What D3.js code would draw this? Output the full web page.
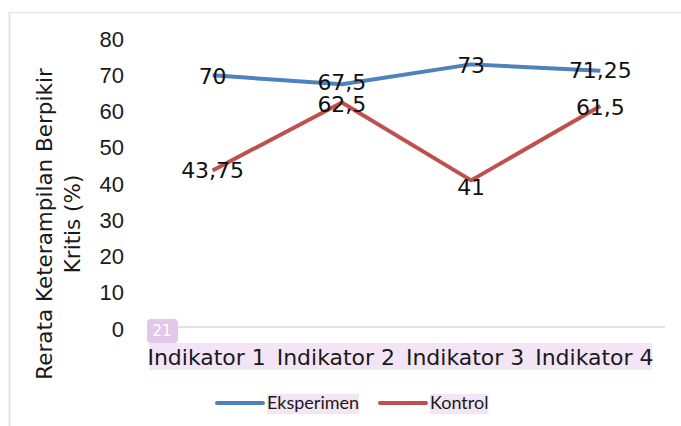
<!DOCTYPE html>
<html>
<head>
<meta charset="utf-8">
<script src="https://cdn.jsdelivr.net/npm/d3@7"></script>
<style>
  body { margin: 0; background: #fff; }
  svg { display: block; }
</style>
</head>
<body>
<div id="chart"></div>
<script>
// Data
const categories = ["Indikator 1", "Indikator 2", "Indikator 3", "Indikator 4"];
const eksperimen = [70, 67.5, 73, 71.25];
const kontrol = [43.75, 62.5, 41, 61.5];
const seriesNames = ["Eksperimen", "Kontrol"];
const yTicks = [0, 10, 20, 30, 40, 50, 60, 70, 80];

const width = 681, height = 426;
const margin = { top: 39, right: 16, bottom: 97, left: 148 };

const svg = d3.select("#chart").append("svg")
  .attr("width", width)
  .attr("height", height);

// Frame
svg.append("line").attr("x1", 9.5).attr("x2", 9.5).attr("y1", 12).attr("y2", height)
  .attr("stroke", "#e3e3e3").attr("stroke-width", 2);
svg.append("line").attr("x1", 9).attr("x2", width).attr("y1", 12.5).attr("y2", 12.5)
  .attr("stroke", "#e6e6e6").attr("stroke-width", 1.5);

const x = d3.scaleBand()
  .domain(categories)
  .range([margin.left, width - margin.right]);

const y = d3.scaleLinear()
  .domain([0, 80])
  .range([height - margin.bottom, margin.top]);

const fontMain = "'DejaVu Sans', Verdana, sans-serif";

// Y ticks
svg.append("g")
  .selectAll("text")
  .data(yTicks)
  .join("text")
  .attr("x", 124)
  .attr("y", d => y(d))
  .attr("dy", "0.35em")
  .attr("text-anchor", "end")
  .attr("font-family", "'Liberation Sans', Arial, sans-serif")
  .attr("font-size", 22)
  .attr("fill", "#1a1a1a")
  .text(d => d);

// Baseline
svg.append("line")
  .attr("x1", margin.left).attr("x2", width - margin.right)
  .attr("y1", y(0) - 2).attr("y2", y(0) - 2)
  .attr("stroke", "#d9d9d9").attr("stroke-width", 1.5);

// Y title
const yTitle = svg.append("text")
  .attr("transform", `translate(52,224) rotate(-90)`)
  .attr("text-anchor", "middle")
  .attr("font-family", fontMain)
  .attr("font-size", 21.5)
  .attr("fill", "#1a1a1a");
yTitle.append("tspan").attr("x", 0).attr("dy", 0).text("Rerata Keterampilan Berpikir");
yTitle.append("tspan").attr("x", 0).attr("dy", 28).text("Kritis (%)");

// Category labels with highlight
svg.append("rect")
  .attr("x", 149).attr("y", 343)
  .attr("width", 503).attr("height", 27)
  .attr("fill", "#f3e5f5");

svg.append("g")
  .selectAll("text")
  .data(categories)
  .join("text")
  .attr("x", d => x(d) + x.bandwidth() / 2 - 6)
  .attr("y", 357)
  .attr("dy", "0.35em")
  .attr("text-anchor", "middle")
  .attr("font-family", fontMain)
  .attr("font-size", 22)
  .attr("fill", "#1a1a1a")
  .text(d => d);

// "21" badge
svg.append("rect")
  .attr("x", 147).attr("y", 319).attr("width", 31).attr("height", 24).attr("rx", 4)
  .attr("fill", "#e4c8ea");
svg.append("text")
  .attr("x", 162).attr("y", 331).attr("dy", "0.35em")
  .attr("text-anchor", "middle")
  .attr("font-family", fontMain).attr("font-size", 15)
  .attr("fill", "#fff")
  .text("21");

// Lines
const colors = ["#4f81bd", "#c0504d"];
const seriesData = [eksperimen, kontrol];
const line = d3.line()
  .x((d, i) => x(categories[i]) + x.bandwidth() / 2)
  .y(d => y(d));

seriesData.forEach((vals, s) => {
  svg.append("path")
    .datum(vals)
    .attr("d", line)
    .attr("fill", "none")
    .attr("stroke", colors[s])
    .attr("stroke-width", 4)
    .attr("stroke-linejoin", "round");
});

// Data labels (centred on points)
const fmt = v => String(v).replace(".", ",");
const labelDy = [[1, -2, 1, 0], [0, 2, 7, 1]];
seriesData.forEach((vals, s) => {
  svg.append("g")
    .selectAll("text")
    .data(vals)
    .join("text")
    .attr("x", (d, i) => x(categories[i]) + x.bandwidth() / 2)
    .attr("y", (d, i) => y(d) + labelDy[s][i])
    .attr("dy", "0.35em")
    .attr("text-anchor", "middle")
    .attr("font-family", fontMain)
    .attr("font-size", 22)
    .attr("fill", "#111")
    .text(d => fmt(d));
});

// Legend
const legendX = [217, 380];
seriesNames.forEach((name, s) => {
  const g = svg.append("g").attr("transform", `translate(${legendX[s]},403)`);
  g.append("line").attr("x1", 0).attr("x2", 46).attr("y1", 0).attr("y2", 0)
    .attr("stroke", colors[s]).attr("stroke-width", 4).attr("stroke-linecap", "round");
  const t = g.append("text")
    .attr("x", 50).attr("y", 0).attr("dy", "0.35em")
    .attr("font-family", "Lato, 'Open Sans', sans-serif")
    .attr("font-size", 18)
    .attr("fill", "#1a1a1a")
    .text(name);
  const bb = t.node().getBBox();
  g.insert("rect", "text")
    .attr("x", bb.x).attr("y", -9).attr("width", bb.width).attr("height", 20)
    .attr("fill", "#f3e5f5");
});
</script>
</body>
</html>
